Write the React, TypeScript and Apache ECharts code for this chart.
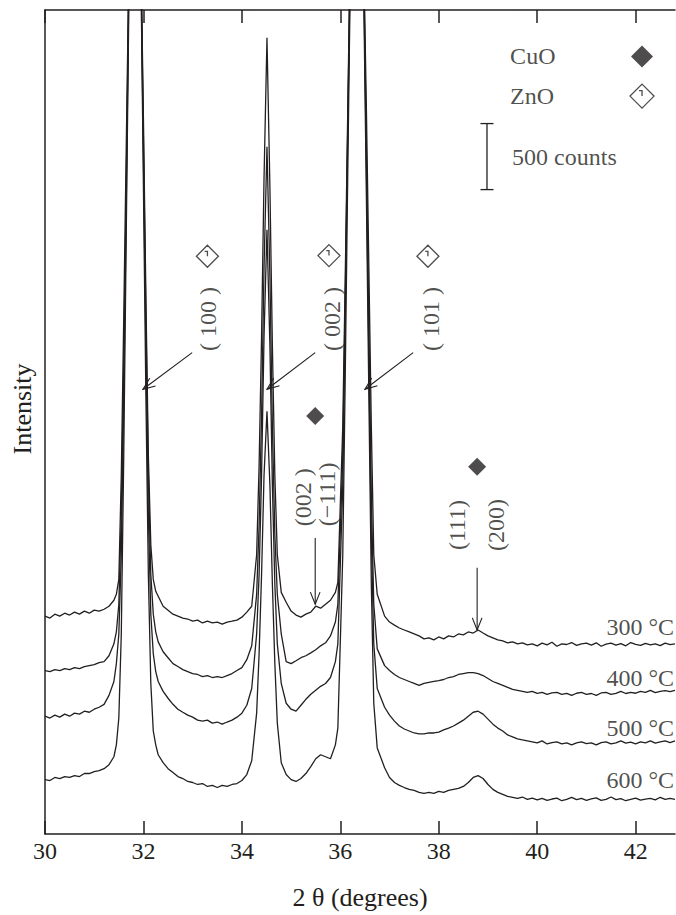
import React, { useEffect, useRef } from "react";
import * as echarts from "echarts";

// ---------- data (2θ in degrees, intensity in counts, curves stacked with their own offsets) ----------
const theta = [
  30.0, 30.1, 30.2, 30.3, 30.4, 30.5, 30.6, 30.7, 30.8, 30.9, 31.0, 31.1, 31.2, 31.3, 31.4,
  31.45, 31.5, 31.55, 31.6, 31.65, 31.7, 31.83, 31.96, 32.0, 32.05, 32.1, 32.15, 32.2, 32.25,
  32.3, 32.4, 32.5, 32.6, 32.7, 32.8, 32.9, 33.0, 33.1, 33.2, 33.3, 33.4, 33.5, 33.6, 33.7, 33.8, 33.9, 34.0, 34.1,
  34.2, 34.3, 34.35, 34.4, 34.45, 34.51, 34.57, 34.62, 34.67, 34.72, 34.8,
  34.9, 35.0, 35.1, 35.2, 35.3, 35.4, 35.5, 35.6, 35.7, 35.8, 35.9,
  35.95, 36.05, 36.1, 36.15, 36.2, 36.34, 36.48, 36.53, 36.58, 36.63, 36.68, 36.75,
  36.9, 37.0, 37.1, 37.2, 37.3, 37.4, 37.5, 37.6, 37.7, 37.8, 37.9, 38.0, 38.1, 38.2, 38.3, 38.4, 38.5, 38.6, 38.7, 38.8,
  38.9, 39.0, 39.1, 39.2, 39.3, 39.4, 39.5, 39.6, 39.7, 39.8, 39.9, 40.0, 40.1, 40.2, 40.3, 40.4, 40.5, 40.6, 40.7, 40.8,
  40.9, 41.0, 41.1, 41.2, 41.3, 41.4, 41.5, 41.6, 41.7, 41.8, 41.9, 42.0, 42.1, 42.2, 42.3, 42.4, 42.5, 42.6, 42.7, 42.8,
];

const int300 = [
  1650, 1635, 1665, 1650, 1672, 1658, 1680, 1665, 1688, 1672, 1695, 1688, 1702, 1725, 1770,
  1815, 1928, 2715, 3915, 5190, 6465, 30000, 6390, 5415, 4065, 2865, 2190, 1928, 1838,
  1800, 1725, 1695, 1665, 1650, 1635, 1628, 1612, 1620, 1598, 1612, 1598, 1605, 1590, 1605, 1612, 1620, 1642, 1680,
  1725, 2115, 2790, 3765, 4965, 6030, 4890, 3690, 2715, 2115, 1830,
  1755, 1688, 1658, 1642, 1665, 1680, 1725, 1710, 1740, 1770, 1830,
  1905, 3090, 4215, 5452, 6690, 30000, 6540, 5490, 4290, 3090, 2115, 1815,
  1650, 1605, 1582, 1560, 1545, 1530, 1515, 1500, 1478, 1485, 1470, 1492, 1478, 1500, 1492, 1515, 1508, 1530, 1522, 1545,
  1522, 1500, 1485, 1470, 1462, 1448, 1455, 1440, 1448, 1432, 1440, 1425, 1445, 1432, 1452, 1422, 1440, 1435, 1450, 1428,
  1440, 1445, 1430, 1448, 1422, 1438, 1446, 1430, 1442, 1425, 1450, 1436, 1428, 1444, 1432, 1440, 1426, 1446, 1434, 1440,
];

const int400 = [
  1238, 1230, 1245, 1238, 1252, 1245, 1260, 1252, 1268, 1275, 1282, 1298, 1305, 1350, 1440,
  1530, 1740, 2415, 3540, 4890, 6390, 30000, 6315, 5265, 3915, 2715, 1965, 1665, 1530,
  1455, 1380, 1335, 1290, 1268, 1245, 1230, 1215, 1208, 1192, 1200, 1185, 1192, 1185, 1200, 1215, 1238, 1260, 1320,
  1425, 1815, 2340, 3165, 4290, 5205, 4215, 3090, 2265, 1815, 1515,
  1305, 1290, 1312, 1335, 1350, 1372, 1395, 1425, 1448, 1500, 1605,
  1740, 2865, 4065, 5340, 6615, 30000, 6465, 5190, 3840, 2565, 1740, 1402,
  1275, 1238, 1208, 1185, 1170, 1155, 1140, 1125, 1140, 1148, 1155, 1162, 1170, 1185, 1192, 1208, 1215, 1222, 1222, 1215,
  1200, 1178, 1155, 1140, 1125, 1110, 1095, 1088, 1080, 1072, 1080, 1065, 1072, 1058, 1068, 1072, 1058, 1065, 1050, 1066,
  1072, 1058, 1064, 1050, 1068, 1072, 1058, 1065, 1080, 1064, 1072, 1066, 1080, 1072, 1088, 1070, 1080, 1086, 1078, 1088,
];

const int500 = [
  892, 878, 900, 885, 908, 892, 915, 908, 930, 922, 945, 960, 982, 1050, 1155,
  1290, 1515, 2115, 3315, 4740, 6315, 30000, 6240, 5115, 3690, 2415, 1665, 1365, 1230,
  1155, 1080, 1028, 982, 945, 922, 900, 885, 862, 855, 862, 840, 848, 832, 848, 862, 885, 915, 975,
  1102, 1515, 1965, 2715, 3765, 4575, 3690, 2640, 1890, 1440, 1140,
  990, 945, 930, 975, 1020, 1058, 1088, 1118, 1140, 1185, 1305,
  1440, 2640, 3915, 5265, 6540, 30000, 6390, 5040, 3615, 2265, 1440, 1102,
  960, 900, 855, 818, 795, 780, 765, 758, 758, 765, 765, 772, 788, 802, 818, 840, 862, 892, 922, 930,
  908, 870, 832, 802, 780, 750, 735, 720, 712, 705, 698, 690, 705, 682, 692, 698, 682, 690, 675, 690,
  698, 684, 690, 675, 692, 698, 682, 690, 705, 688, 696, 682, 698, 690, 705, 688, 698, 705, 692, 705,
];

const int600 = [
  412, 405, 428, 420, 435, 428, 442, 435, 458, 458, 472, 480, 495, 525, 585,
  675, 878, 1515, 2865, 4515, 6165, 30000, 6165, 4890, 3315, 1965, 1140, 780, 675,
  600, 540, 495, 465, 435, 420, 398, 390, 375, 382, 360, 368, 352, 368, 360, 375, 382, 405, 450,
  555, 915, 1365, 1965, 2715, 3202, 2640, 1890, 1290, 840, 540,
  450, 412, 398, 420, 458, 510, 570, 600, 585, 570, 675,
  802, 2115, 3465, 4965, 6390, 30000, 6240, 4815, 3315, 1890, 990, 652,
  502, 428, 390, 368, 352, 338, 330, 315, 308, 315, 308, 322, 315, 330, 338, 345, 360, 390, 428, 442,
  420, 375, 338, 315, 300, 285, 278, 270, 280, 262, 272, 258, 270, 255, 265, 272, 252, 262, 278, 260,
  270, 255, 266, 274, 255, 262, 280, 260, 268, 252, 262, 272, 256, 264, 270, 258, 278, 262, 270, 262,
];

const curveNames = ["300 °C", "400 °C", "500 °C", "600 °C"];
const curves = [int300, int400, int500, int600];

const xTickValues = [30, 32, 34, 36, 38, 40, 42];
const xMin = 30;
const xMax = 42.8;
const yMin = 0;
const yMax = 6240;

// ---------- annotations (data coordinates) ----------
const curveLabelPos = [
  [42.78, 1568],
  [42.78, 1178],
  [42.78, 802],
  [42.78, 412],
];

const znoMarkerPos = [
  [33.3, 4375],
  [35.77, 4380],
  [37.78, 4375],
];
const znoLabels = ["( 100 )", "( 002 )", "( 101 )"];
const znoLabelPos = [
  [33.31, 3900],
  [35.83, 3900],
  [37.85, 3900],
];
const znoArrows = [
  [32.99, 3645, 31.99, 3368],
  [35.49, 3645, 34.51, 3368],
  [37.48, 3645, 36.5, 3368],
];

const cuoMarkerPos = [
  [35.49, 3165],
  [38.78, 2782],
];
const cuoLabels = ["(002 )", "(\u2212111)", "(111)", "(200)"];
const cuoLabelPos = [
  [35.24, 2550],
  [35.73, 2572],
  [38.37, 2340],
  [39.17, 2340],
];
const cuoArrows = [
  [35.49, 2242, 35.49, 1740],
  [38.78, 2017, 38.78, 1545],
];

const legendLabels = ["CuO", "ZnO"];
const legendLabelPos = [
  [39.45, 5888],
  [39.45, 5588],
];
const legendMarkerPos = [
  [42.13, 5888],
  [42.13, 5588],
];

const scaleBar = [38.98, 4880, 5380];
const scaleBarText = "500 counts";
const scaleBarTextPos = [39.49, 5130];

// ---------- styles ----------
const INK = "#231f20";
const FONT = "'Liberation Serif', 'Times New Roman', serif";
const ZNO_SYMBOL = "path://M10,0 L20,10 L10,20 L0,10 Z M7.5,5.5 L10,5.5 L10,10";

function textItem(pos: number[], text: string, rotate: number, align: string, size = 24) {
  return {
    value: pos,
    label: {
      show: true,
      formatter: text,
      position: "inside",
      rotate,
      align,
      verticalAlign: "middle",
      fontSize: size,
      fontFamily: FONT,
      color: INK,
    },
  };
}

export default function App() {
  const ref = useRef<HTMLDivElement>(null);

  useEffect(() => {
    if (!ref.current) return;
    const chart = echarts.init(ref.current, undefined, { renderer: "svg" });

    const arrowRender = (params: any, api: any) => {
      const p1 = api.coord([api.value(0), api.value(1)]);
      const p2 = api.coord([api.value(2), api.value(3)]);
      const ang = Math.atan2(p2[1] - p1[1], p2[0] - p1[0]);
      const L = 13;
      const spread = 0.38;
      const h1 = [p2[0] - L * Math.cos(ang - spread), p2[1] - L * Math.sin(ang - spread)];
      const h2 = [p2[0] - L * Math.cos(ang + spread), p2[1] - L * Math.sin(ang + spread)];
      return {
        type: "group",
        children: [
          { type: "line", shape: { x1: p1[0], y1: p1[1], x2: p2[0], y2: p2[1] }, style: { stroke: INK, lineWidth: 1.1 } },
          { type: "polyline", shape: { points: [h1, p2, h2] }, style: { stroke: INK, fill: "none", lineWidth: 1.1 } },
        ],
      };
    };

    const scaleRender = (params: any, api: any) => {
      const a = api.coord([api.value(0), api.value(1)]);
      const b = api.coord([api.value(0), api.value(2)]);
      const w = 6.5;
      return {
        type: "group",
        children: [
          { type: "line", shape: { x1: a[0], y1: a[1], x2: b[0], y2: b[1] }, style: { stroke: INK, lineWidth: 1.3 } },
          { type: "line", shape: { x1: a[0] - w, y1: a[1], x2: a[0] + w, y2: a[1] }, style: { stroke: INK, lineWidth: 1.3 } },
          { type: "line", shape: { x1: b[0] - w, y1: b[1], x2: b[0] + w, y2: b[1] }, style: { stroke: INK, lineWidth: 1.3 } },
        ],
      };
    };

    const axisCommon = {
      type: "value",
      min: xMin,
      max: xMax,
      splitLine: { show: false },
      axisLine: { show: true, onZero: false, lineStyle: { color: INK, width: 1.5 } },
      axisTick: { show: true, inside: true, length: 13, customValues: xTickValues, lineStyle: { color: INK, width: 1.5 } },
    };

    const textData: any[] = [];
    curveNames.forEach((n, i) => textData.push(textItem(curveLabelPos[i], n, 0, "right")));
    znoLabels.forEach((t, i) => textData.push(textItem(znoLabelPos[i], t, 90, "center")));
    cuoLabels.forEach((t, i) => textData.push(textItem(cuoLabelPos[i], t, 90, "center")));
    legendLabels.forEach((t, i) => textData.push(textItem(legendLabelPos[i], t, 0, "left")));
    textData.push(textItem(scaleBarTextPos, scaleBarText, 0, "left"));

    const option: any = {
      animation: false,
      backgroundColor: "#ffffff",
      grid: { left: 45, right: 1, top: 10, bottom: 73, containLabel: false },
      xAxis: [
        {
          ...axisCommon,
          position: "bottom",
          axisLabel: {
            show: true,
            customValues: xTickValues,
            margin: 5,
            fontSize: 24,
            fontFamily: FONT,
            color: INK,
          },
          name: "2 θ (degrees)",
          nameLocation: "middle",
          nameGap: 50,
          nameTextStyle: { fontSize: 26, fontFamily: FONT, color: INK },
        },
        {
          ...axisCommon,
          position: "top",
          axisLabel: { show: false },
        },
      ],
      yAxis: {
        type: "value",
        min: yMin,
        max: yMax,
        axisLine: { show: true, onZero: false, lineStyle: { color: INK, width: 1.5 } },
        axisTick: { show: false },
        axisLabel: { show: false },
        splitLine: { show: false },
        name: "Intensity",
        nameLocation: "middle",
        nameGap: 10,
        nameTextStyle: { fontSize: 26, fontFamily: FONT, color: INK, padding: [0, 0, 0, 26] },
      },
      series: [
        ...curves.map((vals, i) => ({
          type: "line",
          name: curveNames[i],
          data: theta.map((t, j) => [t, vals[j]]),
          showSymbol: false,
          symbol: "none",
          clip: true,
          silent: true,
          lineStyle: { color: INK, width: 1.3 },
          z: 2,
        })),
        {
          type: "scatter",
          name: "ZnO",
          symbol: ZNO_SYMBOL,
          silent: true,
          itemStyle: { color: "#ffffff", borderColor: INK, borderWidth: 1.3 },
          data: [
            ...znoMarkerPos.map((p) => ({ value: p, symbolSize: 22 })),
            { value: legendMarkerPos[1], symbolSize: 24 },
          ],
          z: 5,
        },
        {
          type: "scatter",
          name: "CuO",
          symbol: "diamond",
          silent: true,
          itemStyle: { color: INK },
          data: [
            ...cuoMarkerPos.map((p) => ({ value: p, symbolSize: 18 })),
            { value: legendMarkerPos[0], symbolSize: 22 },
          ],
          z: 5,
        },
        {
          type: "custom",
          name: "arrows",
          silent: true,
          renderItem: arrowRender,
          data: [...znoArrows, ...cuoArrows],
          z: 4,
        },
        {
          type: "custom",
          name: "scale",
          silent: true,
          renderItem: scaleRender,
          data: [scaleBar],
          z: 4,
        },
        {
          type: "scatter",
          name: "texts",
          silent: true,
          symbolSize: 1,
          itemStyle: { color: "rgba(0,0,0,0)" },
          data: textData,
          z: 6,
        },
      ],
    };

    chart.setOption(option);
    return () => chart.dispose();
  }, []);

  return (
    <div
      ref={ref}
      style={{ position: "fixed", left: 0, top: 0, width: 676, height: 915, background: "#fff" }}
    />
  );
}
